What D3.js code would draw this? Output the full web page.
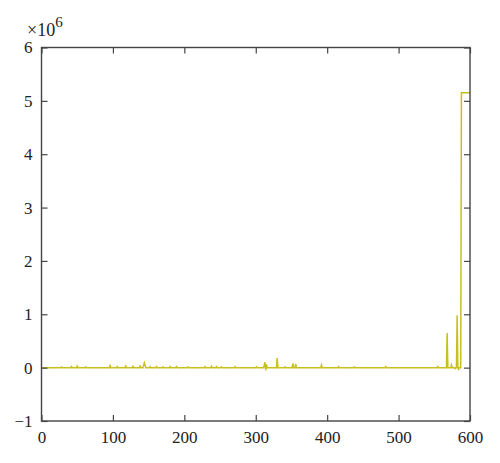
<!DOCTYPE html>
<html>
<head>
<meta charset="utf-8">
<script src="https://cdn.jsdelivr.net/npm/d3@7"></script>
<style>
  body { margin: 0; background: #fff; }
  svg text { font-family: "Liberation Serif", "DejaVu Serif", serif; fill: #222; }
</style>
</head>
<body>
<svg id="chart"></svg>
<script>
// values in units of 1e6, [sample index, value]
var points = [
  [1, 0], [27, 0], [28, 0.015], [29, 0], [41, 0], [42, 0.02], [43, 0],
  [49, 0], [50, 0.03], [51, 0], [61, 0], [62, 0.015], [63, 0],
  [95, 0], [96, 0.04], [97, 0], [105, 0], [106, 0.02], [107, 0],
  [117, 0], [118, 0.03], [119, 0], [127, 0], [128, 0.025], [129, 0],
  [137, 0], [138, 0.03], [139, 0], [142, 0], [144, 0.09], [146, 0],
  [151, 0], [152, 0.02], [153, 0], [160, 0], [161, 0.02], [162, 0],
  [169, 0], [170, 0.015], [171, 0], [179, 0], [180, 0.02], [181, 0],
  [188, 0], [189, 0.02], [190, 0], [204, 0], [205, 0.015], [206, 0],
  [228, 0], [229, 0.02], [230, 0], [237, 0], [238, 0.025], [239, 0],
  [244, 0], [245, 0.02], [246, 0], [251, 0], [252, 0.015], [253, 0],
  [270, 0], [271, 0.02], [272, 0], [300, 0], [301, 0.015], [302, 0],
  [311, 0], [313, 0.1], [314, -0.05], [315, 0.06], [316, 0],
  [329, 0], [330, 0.18], [331, 0], [340, 0], [341, 0.015], [342, 0],
  [351, 0], [352, 0.08], [353, 0], [355, 0], [356, 0.07], [357, 0],
  [391, 0], [392, 0.05], [393, 0], [415, 0], [416, 0.02], [417, 0],
  [437, 0], [438, 0.015], [439, 0], [481, 0], [482, 0.02], [483, 0],
  [554, 0], [555, 0.02], [556, 0], [567, 0], [568, 0.65], [569, 0],
  [573, 0], [574, 0.05], [575, 0], [578, 0], [579, -0.02], [580, 0],
  [581, 0], [582, 0.98], [583, 0], [584, -0.03], [585, 0],
  [587, 0], [588, 5.15], [600, 5.15]
];
var xTicks = [0, 100, 200, 300, 400, 500, 600];
var yTicks = [-1, 0, 1, 2, 3, 4, 5, 6];

var width = 500, height = 463,
    mLeft = 41.5, mRight = 470, mTop = 47.5, mBottom = 421,
    tickLen = 6;

var svg = d3.select('#chart').attr('width', width).attr('height', height);

var x = d3.scaleLinear().domain([0, 600]).range([mLeft, mRight]);
var y = d3.scaleLinear().domain([-1, 6]).range([mBottom, mTop]);

var line = d3.line()
  .x(function(d){ return x(d[0]); })
  .y(function(d){ return y(d[1]); });

svg.append('clipPath').attr('id', 'clip')
  .append('rect').attr('x', mLeft).attr('y', mTop)
  .attr('width', mRight - mLeft).attr('height', mBottom - mTop);

svg.append('path')
  .datum(points)
  .attr('clip-path', 'url(#clip)')
  .attr('fill', 'none')
  .attr('stroke', '#c8c01e')
  .attr('stroke-width', 1.5)
  .attr('d', line);

function styleAxis(g) {
  g.select('.domain').remove();
  g.selectAll('line').attr('stroke', '#444').attr('stroke-width', 1.2);
  g.selectAll('text')
    .style('font-family', '"Liberation Serif", serif')
    .style('font-size', '17px')
    .attr('fill', '#222');
}

svg.append('g')
  .attr('transform', 'translate(0,' + mBottom + ')')
  .call(d3.axisBottom(x).tickValues(xTicks).tickSize(-tickLen).tickPadding(10).tickFormat(d3.format('d')))
  .call(styleAxis);

svg.append('g')
  .attr('transform', 'translate(0,' + mTop + ')')
  .call(d3.axisTop(x).tickValues(xTicks).tickSize(-tickLen).tickFormat(''))
  .call(styleAxis);

svg.append('g')
  .attr('transform', 'translate(' + mLeft + ',0)')
  .call(d3.axisLeft(y).tickValues(yTicks).tickSize(-tickLen).tickPadding(9)
    .tickFormat(function(d){ return d < 0 ? '\u2212' + Math.abs(d) : d; }))
  .call(styleAxis);

svg.append('g')
  .attr('transform', 'translate(' + mRight + ',0)')
  .call(d3.axisRight(y).tickValues(yTicks).tickSize(-tickLen).tickFormat(''))
  .call(styleAxis);

// frame
svg.append('rect')
  .attr('x', mLeft).attr('y', mTop)
  .attr('width', mRight - mLeft).attr('height', mBottom - mTop)
  .attr('fill', 'none').attr('stroke', '#444').attr('stroke-width', 1.4);

// exponent label
var ex = svg.append('text').attr('x', 27).attr('y', 36).style('font-size', '18px');
ex.append('tspan').text('\u00d710');
ex.append('tspan').attr('dy', -9).style('font-size', '15px').text('6');
</script>
</body>
</html>
